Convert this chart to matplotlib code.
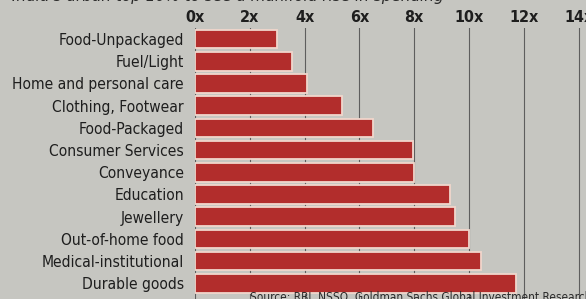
import matplotlib.pyplot as plt

categories = ['Food-Unpackaged', 'Fuel/Light', 'Home and personal care',
              'Clothing, Footwear', 'Food-Packaged', 'Consumer Services',
              'Conveyance', 'Education', 'Jewellery', 'Out-of-home food',
              'Medical-institutional', 'Durable goods']
multiples = [3.0, 3.55, 4.1, 5.35, 6.5, 7.95, 8.0, 9.3, 9.5, 10.0, 10.45, 11.7]
tick_vals = [0, 2, 4, 6, 8, 10, 12, 14]
tick_labels = ['%dx' % t for t in tick_vals]

bg = '#c6c6c1'
fig = plt.figure(figsize=(5.86, 2.99), dpi=100, facecolor=bg)
ax = fig.add_axes([195 / 586, 0, 411 / 586, 1 - 28 / 299])
ax.set_facecolor(bg)

ypos = list(range(len(categories)))
ax.barh(ypos, multiples, height=0.84, color='#b22d2c',
        edgecolor='#f1d6cc', linewidth=1.3, zorder=2)

ax.set_xlim(0, 15)
ax.set_ylim(11.71, -0.5)
ax.set_xticks(tick_vals)
ax.set_xticklabels(tick_labels, family='DejaVu Sans', fontstretch='condensed',
                   fontsize=11.5, fontweight='bold', color='#1e1e1e')
ax.xaxis.tick_top()
ax.tick_params(axis='x', length=0, pad=2)
ax.set_yticks(ypos)
ax.set_yticklabels(categories, family='DejaVu Sans', fontstretch='condensed',
                   fontsize=11.2, color='#1e1e1e')
ax.tick_params(axis='y', length=0, pad=8)
ax.grid(axis='x', color='#5e5e5e', linewidth=0.8, zorder=0)
ax.set_axisbelow(True)
for s in ax.spines.values():
    s.set_visible(False)

fig.text(0.02, 1.012, "India's urban top 10% to see a manifold rise in spending",
         family='DejaVu Sans', fontsize=11, style='italic', color='#2a2a2a',
         va='center')
fig.text(1.01, 0.004, 'Source: RBI, NSSO, Goldman Sachs Global Investment Research',
         family='DejaVu Sans', fontstretch='condensed', fontsize=8.5,
         color='#2a2a2a', ha='right', va='center')

fig.savefig('out.png', dpi=100, facecolor=bg)
